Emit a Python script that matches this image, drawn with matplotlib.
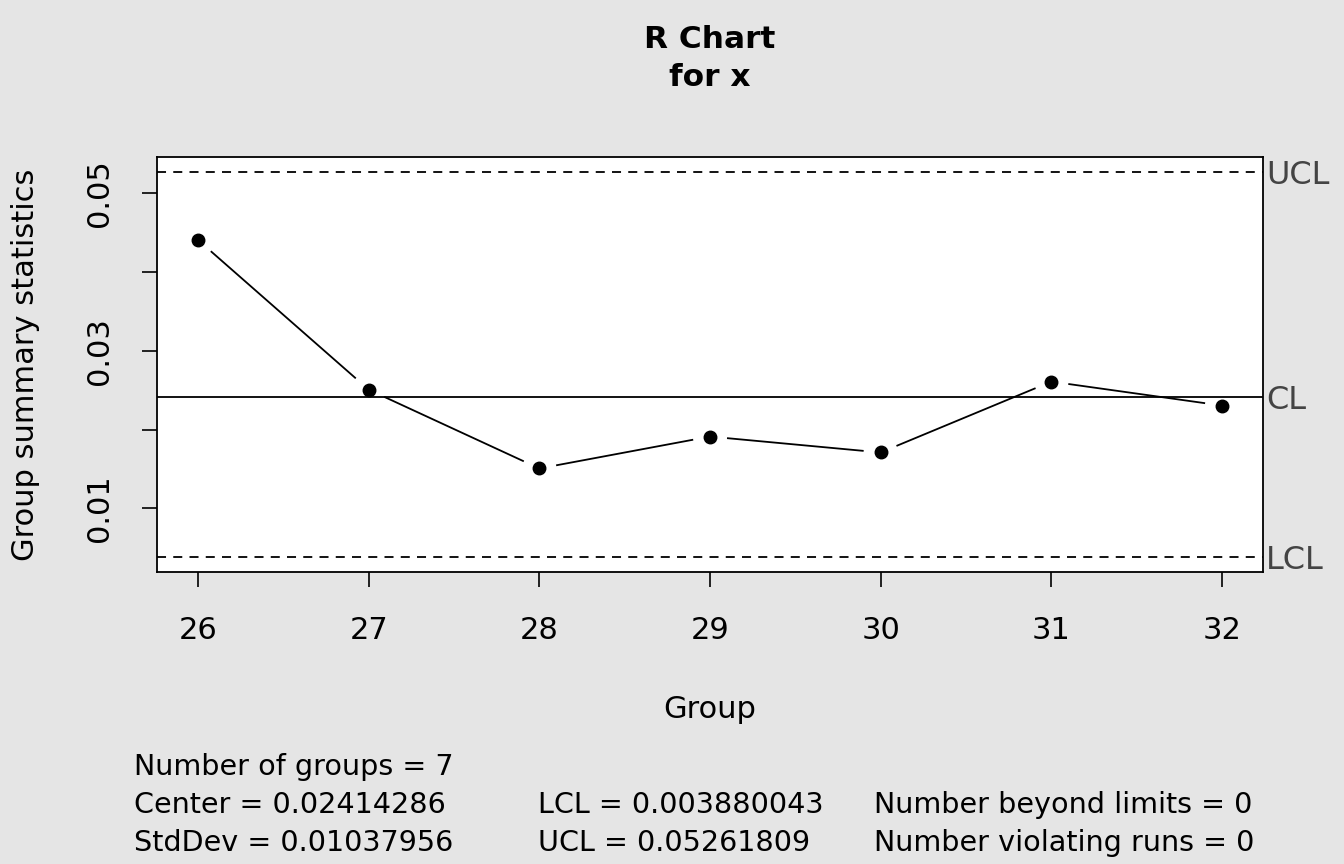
import numpy as np
import matplotlib
matplotlib.use("Agg")
import matplotlib.pyplot as plt

groups = [26, 27, 28, 29, 30, 31, 32]
ranges = [0.04405, 0.02506, 0.01506, 0.01911, 0.01709, 0.02608, 0.02304]
center = 0.02414286
lcl = 0.003880043
ucl = 0.05261809
stddev = 0.01037956
stats_lines = [
    ["Number of groups = 7", "", ""],
    ["Center = 0.02414286", "LCL = 0.003880043", "Number beyond limits = 0"],
    ["StdDev = 0.01037956", "UCL = 0.05261809", "Number violating runs = 0"],
]

bg = "#E5E5E5"
fig = plt.figure(figsize=(13.44, 8.64), dpi=100, facecolor=bg)
ax = fig.add_axes([157/1344, 1 - 572/864, (1263-157)/1344, (572-157)/864])
ax.set_facecolor("white")

lo = min(lcl, min(ranges)); hi = max(ucl, max(ranges))
pad = 0.04 * (hi - lo)
ax.set_ylim(lo - pad, hi + pad)
ax.set_xlim(groups[0] - 0.04*(groups[-1]-groups[0]), groups[-1] + 0.04*(groups[-1]-groups[0]))

ax.axhline(center, color="black", lw=1.3)
ax.axhline(ucl, color="black", lw=1.3, ls=(0, (5, 4)))
ax.axhline(lcl, color="black", lw=1.3, ls=(0, (5, 4)))

# type="b" style: segments with gaps around points
fig.canvas.draw()
trans = ax.transData
pts = trans.transform(np.column_stack([groups, ranges]))
gap = 18
for (x0, y0), (x1, y1) in zip(pts[:-1], pts[1:]):
    d = np.hypot(x1 - x0, y1 - y0)
    ux, uy = (x1 - x0)/d, (y1 - y0)/d
    a = trans.inverted().transform([[x0 + ux*gap, y0 + uy*gap], [x1 - ux*gap, y1 - uy*gap]])
    ax.plot(a[:, 0], a[:, 1], color="black", lw=1.3)
ax.plot(groups, ranges, "o", color="black", ms=9)

for v, lab in [(ucl, "UCL"), (center, "CL"), (lcl, "LCL")]:
    ax.text(1.003, v, lab, transform=ax.get_yaxis_transform(), ha="left", va="center_baseline",
            fontsize=23, color="#444444", clip_on=False)

ax.set_xticks(groups)
ax.set_xticklabels([str(g) for g in groups])
ax.set_yticks([0.01, 0.02, 0.03, 0.04, 0.05])
ax.set_yticklabels(["0.01", "", "0.03", "", "0.05"], rotation=90, va="center")
ax.tick_params(axis="both", direction="out", length=11, width=1.2, labelsize=22)
ax.tick_params(axis="x", pad=21)
ax.tick_params(axis="y", pad=20)
for s in ax.spines.values():
    s.set_linewidth(1.3)

ax.set_xlabel("Group", fontsize=22, labelpad=36)
ax.set_ylabel("Group summary statistics", fontsize=22, labelpad=32)

fig.text(710/1344, 1 - 40/864, "R Chart", ha="center", va="center", fontsize=22.5, fontweight="bold")
fig.text(710/1344, 1 - 78/864, "for x", ha="center", va="center", fontsize=22.5, fontweight="bold")

cols = [134, 538, 874]
rows = [767, 805, 843]
for r, line in zip(rows, stats_lines):
    for c, t in zip(cols, line):
        if t:
            fig.text(c/1344, 1 - r/864, t, ha="left", va="center", fontsize=20.6)

fig.savefig("out.png", dpi=100, facecolor=bg)
